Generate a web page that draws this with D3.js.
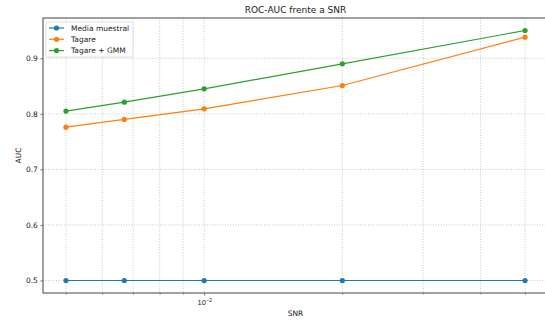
<!DOCTYPE html>
<html>
<head>
<meta charset="utf-8">
<script src="https://cdn.jsdelivr.net/npm/d3@7"></script>
<style>
  body { margin: 0; background: #fff; overflow: hidden; }
  svg { display: block; font-family: "DejaVu Sans", sans-serif; }
</style>
</head>
<body>
<svg id="chart" width="545" height="322"></svg>
<script>
// data
const snr = [0.005, 0.0067, 0.01, 0.02, 0.05]
const seriesNames = ['Media muestral', 'Tagare', 'Tagare + GMM']
const mediaMuestral = [0.5, 0.5, 0.5, 0.5, 0.5]
const tagare = [0.776, 0.790, 0.809, 0.851, 0.938]
const tagareGmm = [0.805, 0.821, 0.845, 0.890, 0.950]
const colors = ['#1f77b4', '#ff7f0e', '#2ca02c']
const yTicks = [0.5, 0.6, 0.7, 0.8, 0.9]
const xMinor = [0.005, 0.006, 0.007, 0.008, 0.009, 0.02, 0.03, 0.04, 0.05]

const series = [mediaMuestral, tagare, tagareGmm]

const svg = d3.select('#chart')
const mLeft = 43, mRight = 548, mTop = 18, mBottom = 293

// matplotlib style 5% margins (log space on x)
const lx = d3.extent(snr).map(Math.log10)
const padX = (lx[1] - lx[0]) * 0.05
const x = d3.scaleLog()
	.domain([10 ** (lx[0] - padX), 10 ** (lx[1] + padX)])
	.range([mLeft, mRight])

const allY = d3.merge(series)
const ey = d3.extent(allY)
const padY = (ey[1] - ey[0]) * 0.05
const y = d3.scaleLinear()
	.domain([ey[0] - padY, ey[1] + padY])
	.range([mBottom, mTop])

// grid
const grid = svg.append('g')
	.attr('stroke', '#b0b0b0')
	.attr('stroke-width', 0.7)
	.attr('stroke-dasharray', '1,1.6')
grid.selectAll('.gx').data([0.01].concat(xMinor)).enter()
	.append('line')
	.attr('x1', d => x(d)).attr('x2', d => x(d))
	.attr('y1', mTop).attr('y2', mBottom)
grid.selectAll('.gy').data(yTicks).enter()
	.append('line')
	.attr('x1', mLeft).attr('x2', mRight)
	.attr('y1', d => y(d)).attr('y2', d => y(d))

// axes
const xAxis = d3.axisBottom(x)
	.tickValues([0.01])
	.tickSize(2.6)
	.tickPadding(2.6)
	.tickFormat(() => '')
const gx = svg.append('g')
	.attr('transform', `translate(0,${mBottom})`)
	.call(xAxis)
gx.select('.domain').remove()
gx.selectAll('line').attr('stroke', '#222').attr('stroke-width', 0.6)
gx.selectAll('.tick text').remove()
gx.selectAll('.tick').append('text')
	.attr('y', 12)
	.attr('text-anchor', 'middle')
	.attr('fill', '#222')
	.attr('font-size', 7.5)
	.call(t => {
		t.append('tspan').text('10')
		t.append('tspan').attr('dy', -3).attr('font-size', 5.3).text('\u22122')
	})

const gxm = svg.append('g')
	.attr('transform', `translate(0,${mBottom})`)
	.call(d3.axisBottom(x).tickValues(xMinor).tickSize(1.6).tickFormat(''))
gxm.select('.domain').remove()
gxm.selectAll('line').attr('stroke', '#222').attr('stroke-width', 0.5)

const gy = svg.append('g')
	.attr('transform', `translate(${mLeft},0)`)
	.call(d3.axisLeft(y).tickValues(yTicks).tickSize(2.6).tickPadding(2.6).tickFormat(d3.format('.1f')))
gy.select('.domain').remove()
gy.selectAll('line').attr('stroke', '#222').attr('stroke-width', 0.6)
gy.selectAll('text').attr('font-size', 7.5).attr('fill', '#222').attr('font-family', 'DejaVu Sans')

// spines
svg.append('rect')
	.attr('x', mLeft).attr('y', mTop)
	.attr('width', mRight - mLeft).attr('height', mBottom - mTop)
	.attr('fill', 'none')
	.attr('stroke', '#444')
	.attr('stroke-width', 1)

// lines + markers
const line = d3.line()
	.x((d, i) => x(snr[i]))
	.y(d => y(d))

series.forEach((s, k) => {
	const g = svg.append('g')
	g.append('path')
		.datum(s)
		.attr('d', line)
		.attr('fill', 'none')
		.attr('stroke', colors[k])
		.attr('stroke-width', 1.2)
	g.selectAll('circle').data(s).enter()
		.append('circle')
		.attr('cx', (d, i) => x(snr[i]))
		.attr('cy', d => y(d))
		.attr('r', 2.6)
		.attr('fill', colors[k])
})

// title and labels
svg.append('text')
	.attr('x', (mLeft + mRight) / 2).attr('y', 13)
	.attr('text-anchor', 'middle')
	.attr('font-size', 9)
	.attr('fill', '#222')
	.text('ROC-AUC frente a SNR')

svg.append('text')
	.attr('x', (mLeft + mRight) / 2).attr('y', 316)
	.attr('text-anchor', 'middle')
	.attr('font-size', 7.5)
	.attr('fill', '#222')
	.text('SNR')

svg.append('text')
	.attr('transform', `translate(21,${(mTop + mBottom) / 2}) rotate(-90)`)
	.attr('text-anchor', 'middle')
	.attr('font-size', 7.5)
	.attr('fill', '#222')
	.text('AUC')

// legend
const legend = svg.append('g').attr('transform', 'translate(46,22)')
legend.append('rect')
	.attr('width', 87).attr('height', 35)
	.attr('rx', 2)
	.attr('fill', '#fff').attr('fill-opacity', 0.8)
	.attr('stroke', '#ccc').attr('stroke-width', 0.6)
const item = legend.selectAll('.item').data(seriesNames).enter()
	.append('g')
	.attr('transform', (d, i) => `translate(0,${6 + i * 11.3})`)
item.append('line')
	.attr('x1', 3).attr('x2', 18)
	.attr('stroke', (d, i) => colors[i])
	.attr('stroke-width', 1.2)
item.append('circle')
	.attr('cx', 10.5).attr('r', 2.6)
	.attr('fill', (d, i) => colors[i])
item.append('text')
	.attr('x', 25).attr('dy', '0.35em')
	.attr('font-size', 7.5)
	.attr('fill', '#222')
	.text(d => d)
</script>
</body>
</html>
